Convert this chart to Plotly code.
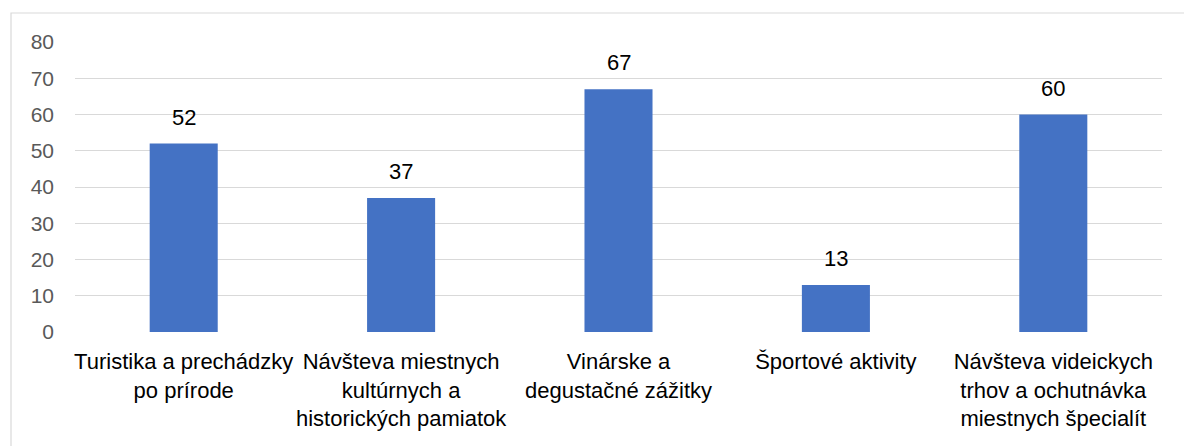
import plotly.graph_objects as go

categories = [
    "Turistika a prechádzky<br>po prírode",
    "Návšteva miestnych<br>kultúrnych a<br>historických pamiatok",
    "Vinárske a<br>degustačné zážitky",
    "Športové aktivity",
    "Návšteva videickych<br>trhov a ochutnávka<br>miestnych špecialít",
]
values = [52, 37, 67, 13, 60]
y_ticks = [0, 10, 20, 30, 40, 50, 60, 70, 80]

FONT = "'Liberation Sans', Arial, sans-serif"

# page body has an 8px margin, so the figure is a bit smaller than the window
W, H = 1184, 438
L, R, T, B = 67, 30, 34, 114
pw, ph = W - L - R, H - T - B

fig = go.Figure()
fig.add_trace(go.Bar(
    x=categories, y=values,
    marker=dict(color="#4472C4", line=dict(width=0)),
    hoverinfo="x+y",
))

for c, v in zip(categories, values):
    fig.add_annotation(x=c, y=v, text=str(v), showarrow=False,
                       yanchor="bottom", yshift=12,
                       font=dict(family=FONT, size=22, color="#000000"))

def px2paperx(px):
    return (px - L) / pw

def px2papery(py):
    return (H - B - py) / ph

fig.add_shape(type="rect", xref="paper", yref="paper",
              x0=px2paperx(3), x1=px2paperx(1183),
              y0=px2papery(460), y1=px2papery(5),
              line=dict(color="#D9D9D9", width=1.2), fillcolor="rgba(0,0,0,0)",
              layer="below")

fig.update_layout(
    width=W, height=H,
    margin=dict(l=L, r=R, t=T, b=B, pad=0),
    paper_bgcolor="white", plot_bgcolor="white",
    bargap=0.687,
    showlegend=False,
    font=dict(family=FONT, size=21, color="#595959"),
    xaxis=dict(showgrid=False, showline=False, zeroline=False, ticks="",
               tickfont=dict(family=FONT, size=22, color="#000000"),
               ticklabelstandoff=14, tickangle=0, automargin=False),
    yaxis=dict(range=[0, 80], tickvals=y_ticks, showgrid=True,
               gridcolor="#D9D9D9", gridwidth=1.3, zeroline=False,
               showline=False, ticks="",
               tickfont=dict(family=FONT, size=21, color="#595959"),
               ticklabelstandoff=20, automargin=False),
)

fig.write_html("out.html")
